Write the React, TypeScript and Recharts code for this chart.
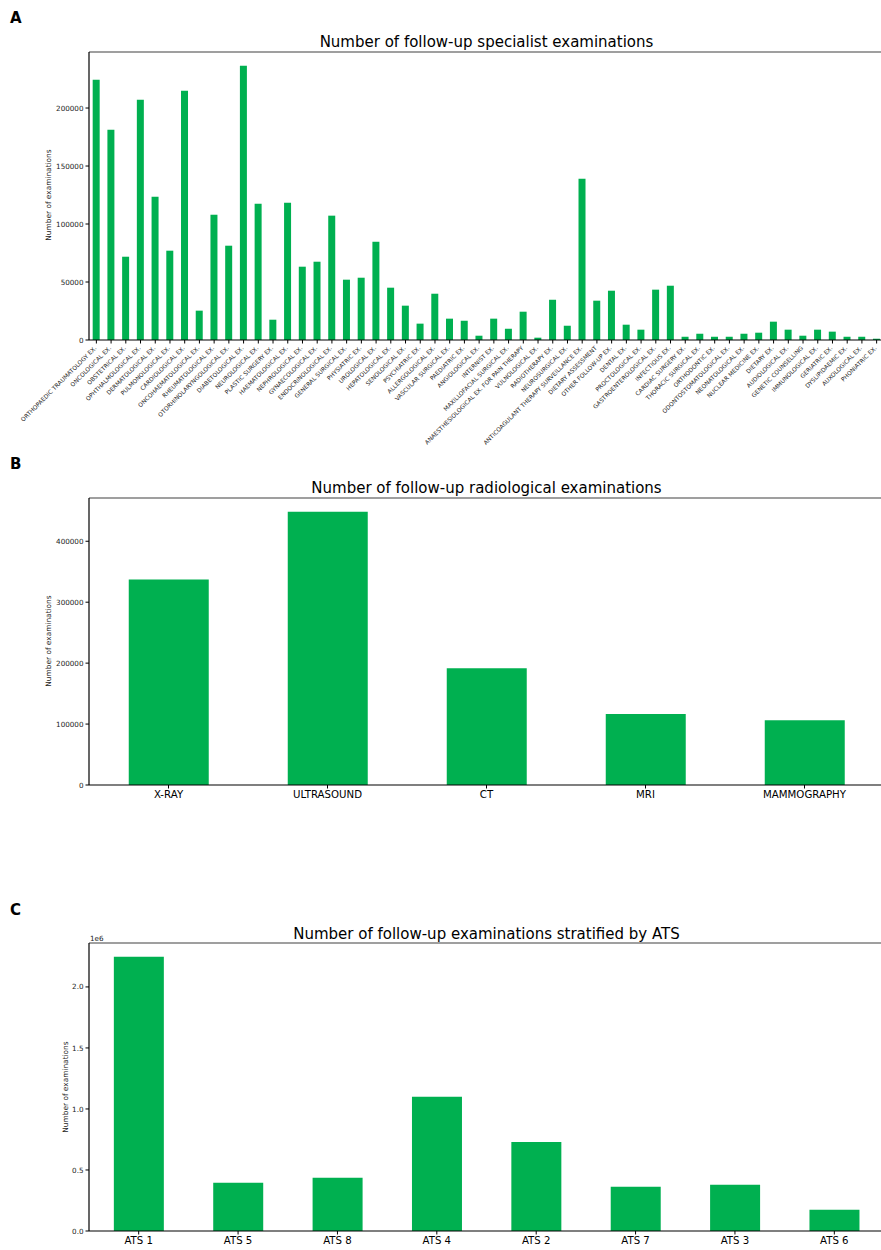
import { Bar, BarChart, ReferenceLine, XAxis, YAxis } from "recharts";

const specialistCategories = [
  "ORTHOPAEDIC TRAUMATOLOGY EX.",
  "ONCOLOGICAL EX.",
  "OBSTETRICAL EX.",
  "OPHTHALMOLOGICAL EX.",
  "DERMATOLOGICAL EX.",
  "PULMONOLOGICAL EX.",
  "CARDIOLOGICAL EX.",
  "ONCOHAEMATOLOGICAL EX.",
  "RHEUMATOLOGICAL EX.",
  "OTORHINOLARYNGOLOGICAL EX.",
  "DIABETOLOGICAL EX.",
  "NEUROLOGICAL EX.",
  "PLASTIC SURGERY EX.",
  "HAEMATOLOGICAL EX.",
  "NEPHROLOGICAL EX.",
  "GYNAECOLOGICAL EX.",
  "ENDOCRINOLOGICAL EX.",
  "GENERAL SURGICAL EX.",
  "PHYSIATRIC EX.",
  "UROLOGICAL EX.",
  "HEPATOLOGICAL EX.",
  "SENOLOGICAL EX.",
  "PSYCHIATRIC EX.",
  "ALLERGOLOGICAL EX.",
  "VASCULAR SURGICAL EX.",
  "PAEDIATRIC EX.",
  "ANGIOLOGICAL EX.",
  "INTERNIST EX.",
  "MAXILLOFACIAL SURGICAL EX.",
  "ANAESTHESIOLOGICAL EX. FOR PAIN THERAPY",
  "VULNOLOGICAL EX.",
  "RADIOTHERAPY EX.",
  "NEUROSURGICAL EX.",
  "ANTICOAGULANT THERAPY SURVEILLANCE EX.",
  "DIETARY ASSESSMENT",
  "OTHER FOLLOW-UP EX.",
  "DENTAL EX.",
  "PROCTOLOGICAL EX.",
  "GASTROENTEROLOGICAL EX.",
  "INFECTIOUS EX.",
  "CARDIAC SURGERY EX.",
  "THORACIC SURGICAL EX.",
  "ORTHODONTIC EX.",
  "ODONTOSTOMATOLOGICAL EX.",
  "NEONATOLOGICAL EX.",
  "NUCLEAR MEDICINE EX.",
  "DIETARY EX.",
  "AUDIOLOGICAL EX.",
  "GENETIC COUNSELLING",
  "IMMUNOLOGICAL EX.",
  "GERIATRIC EX.",
  "DYSLIPIDAEMIC EX.",
  "AUXOLOGICAL EX.",
  "PHONIATRIC EX.",
];

const specialistValues = [
  224400, 181300, 71800, 207200, 123500, 77000, 214900, 25300, 108000, 81300,
  236500, 117500, 17500, 118400, 63200, 67500, 107200, 52000, 53700, 84700,
  45100, 29600, 14100, 39900, 18400, 16600, 3700, 18400, 9700, 24400, 2000,
  34700, 12300, 139000, 33900, 42500, 13200, 8900, 43400, 46800, 2800, 5400,
  2800, 2800, 5400, 6300, 15800, 8900, 3700, 8900, 7200, 2800, 2800, 1100,
];

const radiologyCategories = ["X-RAY", "ULTRASOUND", "CT", "MRI", "MAMMOGRAPHY"];
const radiologyValues = [337400, 448600, 191500, 116600, 106300];

const atsCategories = ["ATS 1", "ATS 5", "ATS 8", "ATS 4", "ATS 2", "ATS 7", "ATS 3", "ATS 6"];
const atsValues = [2248000, 396000, 437000, 1100000, 730000, 363000, 379000, 175000];

const specialistTicks = [0, 50000, 100000, 150000, 200000];
const radiologyTicks = [0, 100000, 200000, 300000, 400000];
const atsTicks = [0, 500000, 1000000, 1500000, 2000000];

const GREEN = "#00B050";
const FONT = "DejaVu Sans";
const INK = "#222";

const specialistData = specialistCategories.map((name, i) => ({ name, value: specialistValues[i] }));
const radiologyData = radiologyCategories.map((name, i) => ({ name, value: radiologyValues[i] }));
const atsData = atsCategories.map((name, i) => ({ name, value: atsValues[i] }));

function SlantTick({ x, y, payload }: any) {
  return (
    <text
      transform={`translate(${x - 1},${y + 1.5}) rotate(-45)`}
      textAnchor="end"
      dy="0.35em"
      fontSize={5.9}
      fontFamily={FONT}
      fill={INK}
    >
      {payload.value}
    </text>
  );
}

function Panel({
  data,
  top,
  height,
  xHeight,
  ticks,
  domainMax,
  tickFormat,
  xTick,
}: {
  data: { name: string; value: number }[];
  top: number;
  height: number;
  xHeight: number;
  ticks: number[];
  domainMax: number;
  tickFormat?: (v: number) => string;
  xTick: any;
}) {
  return (
    <div style={{ position: "absolute", left: 0, top }}>
      <BarChart
        width={884}
        height={height}
        data={data}
        margin={{ top: 52, right: 0, bottom: 0, left: 0 }}
        barCategoryGap="25%"
      >
        <XAxis
          dataKey="name"
          interval={0}
          height={xHeight}
          tick={xTick}
          tickSize={3.5}
          tickMargin={2}
          axisLine={{ stroke: "#000", strokeWidth: 1.2 }}
          tickLine={{ stroke: "#000" }}
        />
        <YAxis
          width={89}
          domain={[0, domainMax]}
          ticks={ticks}
          tickFormatter={tickFormat}
          tickSize={3.5}
          tickMargin={2}
          tick={{ fontSize: 7.2, fontFamily: FONT, fill: INK }}
          axisLine={{ stroke: "#000", strokeWidth: 1.2 }}
          tickLine={{ stroke: "#000" }}
          allowDataOverflow
        />
        <Bar dataKey="value" fill={GREEN} isAnimationActive={false} />
        {/* top spine */}
        <ReferenceLine y={domainMax} stroke="#7f7f7f" strokeWidth={1.6} />
      </BarChart>
    </div>
  );
}

const letterStyle = {
  position: "absolute" as const,
  left: 10,
  fontSize: 15,
  fontWeight: "bold" as const,
  fontFamily: FONT,
  color: "#000",
  lineHeight: "15px",
};

const titleStyle = {
  position: "absolute" as const,
  left: 89,
  width: 795,
  textAlign: "center" as const,
  fontSize: 15,
  fontFamily: FONT,
  color: "#000",
  lineHeight: "15px",
  whiteSpace: "nowrap" as const,
};

function YLabel({ x, y }: { x: number; y: number }) {
  return (
    <div
      style={{
        position: "absolute",
        left: x - 60,
        top: y - 5,
        width: 120,
        height: 10,
        lineHeight: "10px",
        textAlign: "center",
        fontSize: 7.4,
        fontFamily: FONT,
        color: INK,
        transform: "rotate(-90deg)",
        whiteSpace: "nowrap",
      }}
    >
      Number of examinations
    </div>
  );
}

export default function App() {
  const bigTick = { fontSize: 10.2, fontFamily: FONT, fill: "#000" };
  return (
    <div
      style={{
        position: "absolute",
        left: 0,
        top: 0,
        width: 881,
        height: 1250,
        overflow: "hidden",
        background: "#fff",
      }}
    >
      <Panel
        data={specialistData}
        top={0}
        height={446}
        xHeight={106}
        ticks={specialistTicks}
        domainMax={248300}
        xTick={<SlantTick />}
      />
      <Panel
        data={radiologyData}
        top={446}
        height={370}
        xHeight={31}
        ticks={radiologyTicks}
        domainMax={471000}
        xTick={bigTick}
      />
      <Panel
        data={atsData}
        top={891}
        height={359}
        xHeight={19}
        ticks={atsTicks}
        domainMax={2360000}
        tickFormat={(v) => (v / 1e6).toFixed(1)}
        xTick={bigTick}
      />

      <div style={{ ...letterStyle, top: 11 }}>A</div>
      <div style={{ ...letterStyle, top: 457 }}>B</div>
      <div style={{ ...letterStyle, top: 903 }}>C</div>

      <div style={{ ...titleStyle, top: 35 }}>Number of follow-up specialist examinations</div>
      <div style={{ ...titleStyle, top: 481 }}>Number of follow-up radiological examinations</div>
      <div style={{ ...titleStyle, top: 927 }}>Number of follow-up examinations stratified by ATS</div>

      <YLabel x={49} y={195} />
      <YLabel x={49} y={641} />
      <YLabel x={66} y={1087} />

      <div
        style={{
          position: "absolute",
          left: 90,
          top: 935,
          fontSize: 7.2,
          fontFamily: FONT,
          color: INK,
          lineHeight: "8px",
        }}
      >
        1e6
      </div>
    </div>
  );
}
